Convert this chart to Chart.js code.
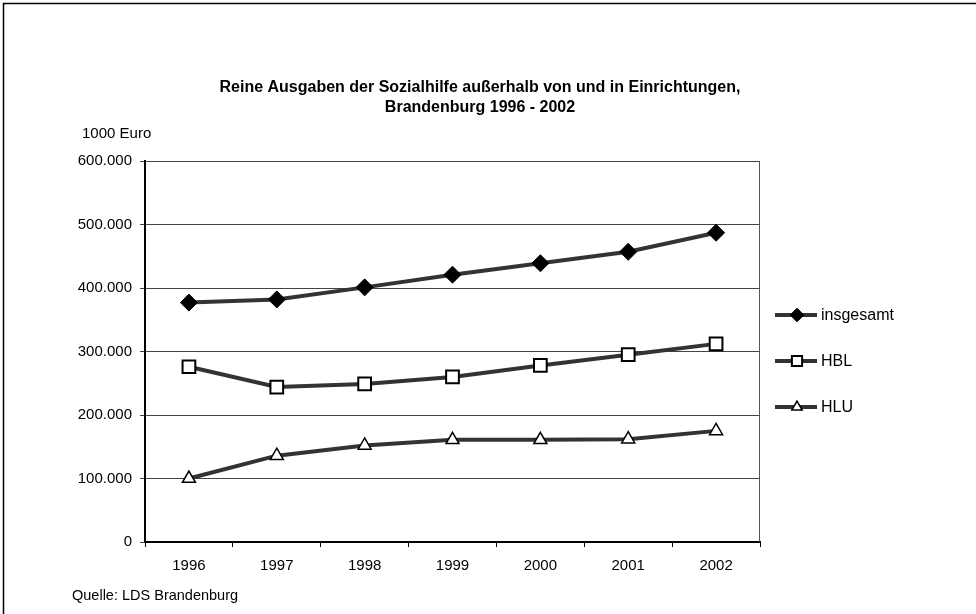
<!DOCTYPE html>
<html>
<head>
<meta charset="utf-8">
<script src="https://cdn.jsdelivr.net/npm/chart.js@4"></script>
<style>
  html, body { margin: 0; padding: 0; background: #fff; }
  canvas { display: block; }
</style>
</head>
<body>
<canvas id="chart" width="976" height="614"></canvas>
<script>
// ——— data (1000 Euro) ———
const years     = ['1996', '1997', '1998', '1999', '2000', '2001', '2002'];
const insgesamt = [377000, 382000, 401000, 421000, 439000, 457000, 487000];
const hbl       = [276000, 244000, 249000, 260000, 278000, 295000, 312000];
const hlu       = [100000, 136000, 152000, 161000, 161000, 162000, 175000];
const yTicks    = [0, 100000, 200000, 300000, 400000, 500000, 600000];

const titleLines = ['Reine Ausgaben der Sozialhilfe außerhalb von und in Einrichtungen,', 'Brandenburg 1996 - 2002'];
const unitLabel  = '1000 Euro';
const sourceText = 'Quelle: LDS Brandenburg';

const FONT = '"Liberation Sans", Arial, sans-serif';

// 600000 -> "600.000"
const fmt = v => String(v).replace(/\B(?=(\d{3})+(?!\d))/g, '.');

// ——— extra drawing: frame, titles, legend ———
const decor = {
  id: 'decor',
  beforeDraw(chart) {
    const c = chart.ctx;
    c.save();
    c.fillStyle = '#fff';
    c.fillRect(0, 0, chart.width, chart.height);
    // only top and left edge of the frame are visible in the source
    c.strokeStyle = '#000';
    c.lineWidth = 1.5;
    c.beginPath();
    c.moveTo(3.5, chart.height);
    c.lineTo(3.5, 3.5);
    c.lineTo(chart.width, 3.5);
    c.stroke();
    c.restore();
  },
  afterDraw(chart) {
    const c = chart.ctx;
    const a = chart.chartArea;
    c.save();
    // right border of plot area
    c.strokeStyle = '#555';
    c.lineWidth = 1;
    c.beginPath();
    c.moveTo(a.right - 0.5, a.top);
    c.lineTo(a.right - 0.5, a.bottom);
    c.stroke();

    c.fillStyle = '#000';
    c.textBaseline = 'middle';
    c.textAlign = 'center';
    c.font = 'bold 16px ' + FONT;
    c.fillText(titleLines[0], 480, 88);
    c.fillText(titleLines[1], 480, 108);

    c.textAlign = 'left';
    c.font = '15px ' + FONT;
    c.fillText(unitLabel, 82, 134);
    c.font = '14.5px ' + FONT;
    c.fillText(sourceText, 72, 596);

    // legend
    const ys = [315, 361, 407];
    chart.data.datasets.forEach((ds, i) => {
      const y = ys[i];
      c.strokeStyle = ds.borderColor;
      c.lineWidth = 4;
      c.beginPath();
      c.moveTo(775, y);
      c.lineTo(817, y);
      c.stroke();
      c.fillStyle = ds.pointBackgroundColor;
      c.strokeStyle = ds.pointBorderColor;
      c.lineWidth = ds.pointBorderWidth;
      Chart.helpers.drawPoint(c, {
        pointStyle: ds.pointStyle, radius: ds.pointRadius * 0.8,
        rotation: 0, borderWidth: ds.pointBorderWidth
      }, 797, y);
      c.fillStyle = '#000';
      c.font = '16px ' + FONT;
      c.fillText(ds.label, 821, y + 1);
    });
    c.restore();
  }
};

const lineStyle = { borderColor: '#333', borderWidth: 4, tension: 0 };

new Chart(document.getElementById('chart'), {
  type: 'line',
  data: {
    labels: years,
    datasets: [
      { label: 'insgesamt', data: insgesamt, ...lineStyle,
        pointStyle: 'rectRot', pointRadius: 8.5, pointBackgroundColor: '#000',
        pointBorderColor: '#000', pointBorderWidth: 1 },
      { label: 'HBL', data: hbl, ...lineStyle,
        pointStyle: 'rect', pointRadius: 9, pointBackgroundColor: '#fff',
        pointBorderColor: '#000', pointBorderWidth: 2 },
      { label: 'HLU', data: hlu, ...lineStyle,
        pointStyle: 'triangle', pointRadius: 7.5, pointBackgroundColor: '#fff',
        pointBorderColor: '#000', pointBorderWidth: 1.5 }
    ]
  },
  options: {
    responsive: false,
    animation: false,
    devicePixelRatio: 1,
    layout: { padding: { left: 0, top: 161, right: 216, bottom: 0 } },
    plugins: { legend: { display: false }, title: { display: false }, tooltip: { enabled: false } },
    scales: {
      x: {
        offset: true,
        grid: { offset: true, drawOnChartArea: false, drawTicks: true, tickLength: 5, color: '#000' },
        border: { color: '#000', width: 2 },
        ticks: { color: '#000', font: { family: FONT, size: 15 }, padding: 10, maxRotation: 0 },
        afterFit(s) { s.height = 72; }
      },
      y: {
        min: 0, max: 600000,
        afterBuildTicks(s) { s.ticks = yTicks.map(v => ({ value: v })); },
        grid: { color: '#444', lineWidth: 1, tickLength: 5, drawTicks: true },
        border: { color: '#000', width: 2 },
        ticks: { color: '#000', font: { family: FONT, size: 15 }, padding: 8, callback: v => fmt(v) },
        afterFit(s) { s.width = 145; }
      }
    }
  },
  plugins: [decor]
});
</script>
</body>
</html>
